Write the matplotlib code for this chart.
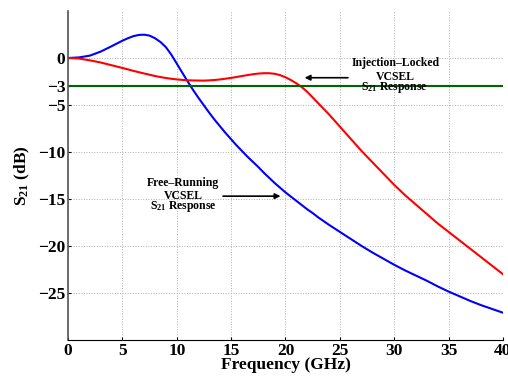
import matplotlib
matplotlib.use("Agg")
import matplotlib.pyplot as plt

# Dados (frequencia em GHz, S21 em dB)
freq = [0, 1, 2, 3, 4, 5, 5.5, 6, 6.5, 7, 7.5, 8, 8.5, 9, 9.5, 10, 10.5, 11, 11.5, 12,
        12.5, 13, 13.5, 14, 14.5, 15, 15.5, 16, 16.5, 17, 17.5, 18, 18.5, 19, 19.5, 20,
        20.5, 21, 21.5, 22, 22.5, 23, 23.5, 24,
        25, 26, 27, 28, 29, 30, 31, 32, 33, 34, 35, 36, 37, 38, 39, 40]
free_running = [0, 0.06, 0.25, 0.68, 1.25, 1.84, 2.1, 2.32, 2.45, 2.48, 2.38, 2.1, 1.7, 1.15, 0.35,
                -0.6, -1.55, -2.5, -3.4, -4.25,
                -5.05, -5.85, -6.6, -7.3, -8.0, -8.65, -9.3, -9.9, -10.5, -11.05, -11.6, -12.2,
                -12.75, -13.3, -13.8, -14.3,
                -14.75, -15.2, -15.65, -16.1, -16.5, -16.95, -17.35, -17.75,
                -18.5, -19.25, -20.0, -20.7, -21.35, -22.0, -22.6, -23.15, -23.7, -24.3,
                -24.85, -25.35, -25.85, -26.3, -26.7, -27.1]
injection_locked = [0, -0.06, -0.25, -0.48, -0.77, -1.06, -1.21, -1.37, -1.51, -1.65, -1.78,
                    -1.92, -2.03, -2.13, -2.21, -2.28, -2.33, -2.37, -2.39, -2.4,
                    -2.41, -2.38, -2.34, -2.28, -2.2, -2.12, -2.02, -1.92, -1.82, -1.73, -1.66,
                    -1.62, -1.62, -1.68, -1.82, -2.05,
                    -2.35, -2.7, -3.1, -3.6, -4.2, -4.8, -5.4, -6.0,
                    -7.3, -8.6, -9.9, -11.1, -12.3, -13.5, -14.6, -15.6, -16.6, -17.6,
                    -18.5, -19.4, -20.3, -21.2, -22.1, -23.0]
level_3db = -3
xticks = [0, 5, 10, 15, 20, 25, 30, 35, 40]
yticks = [0, -3, -5, -10, -15, -20, -25]

plt.rcParams["font.family"] = "Liberation Serif"
plt.rcParams["font.weight"] = "bold"
plt.rcParams["mathtext.fontset"] = "custom"
plt.rcParams["mathtext.rm"] = "Liberation Serif:bold"
plt.rcParams["mathtext.it"] = "Liberation Serif:bold"
plt.rcParams["mathtext.bf"] = "Liberation Serif:bold"

fig = plt.figure(figsize=(5.08, 3.79), dpi=100)
ax = fig.add_axes([0.134, 0.103, 0.856, 0.868])

ax.plot(freq, free_running, color="blue", lw=1.5)
ax.plot(freq, injection_locked, color="red", lw=1.5)
ax.axhline(level_3db, color="#006400", lw=1.5)

ax.set_xlim(0, 40)
ax.set_ylim(-30, 5)
ax.set_xticks(xticks)
ax.set_yticks(yticks)
ax.set_xticklabels([str(t) for t in xticks])
ax.set_yticklabels([str(t).replace("-", "\u2212") for t in yticks])
ax.tick_params(labelsize=12.5, direction="in", length=2.5, width=0.8, pad=2)
ax.grid(True, linestyle=":", color="#b0b0b0", lw=0.7)

ax.spines["top"].set_visible(False)
ax.spines["right"].set_visible(False)
ax.spines["left"].set_color("#555555")
ax.spines["left"].set_linewidth(1.2)

ax.set_xlabel("Frequency (GHz)", fontsize=12.5, fontweight="bold", labelpad=-1)
ax.set_ylabel("S$_{21}$ (dB)", fontsize=12.5, fontweight="bold", labelpad=4)

# Anotacoes
ax.annotate("", xy=(21.5, -2.1), xytext=(26.0, -2.1),
            arrowprops=dict(arrowstyle="-|>", color="black", lw=1.2, mutation_scale=8))
ax.text(30.1, -0.56, "Injection\u2013Locked", fontsize=8.5, fontweight="bold", ha="center", va="center")
ax.text(30.1, -2.05, "VCSEL", fontsize=8.5, fontweight="bold", ha="center", va="center")
ax.text(30.0, -3.15, "S$_{21}$ Response", fontsize=8.5, fontweight="bold", ha="center", va="center")

ax.annotate("", xy=(19.8, -14.7), xytext=(14.0, -14.7),
            arrowprops=dict(arrowstyle="-|>", color="black", lw=1.2, mutation_scale=8))
ax.text(10.6, -13.25, "Free\u2013Running", fontsize=8.5, fontweight="bold", ha="center", va="center")
ax.text(10.6, -14.65, "VCSEL", fontsize=8.5, fontweight="bold", ha="center", va="center")
ax.text(10.6, -15.8, "S$_{21}$ Response", fontsize=8.5, fontweight="bold", ha="center", va="center")

plt.savefig("out.png", dpi=100)
